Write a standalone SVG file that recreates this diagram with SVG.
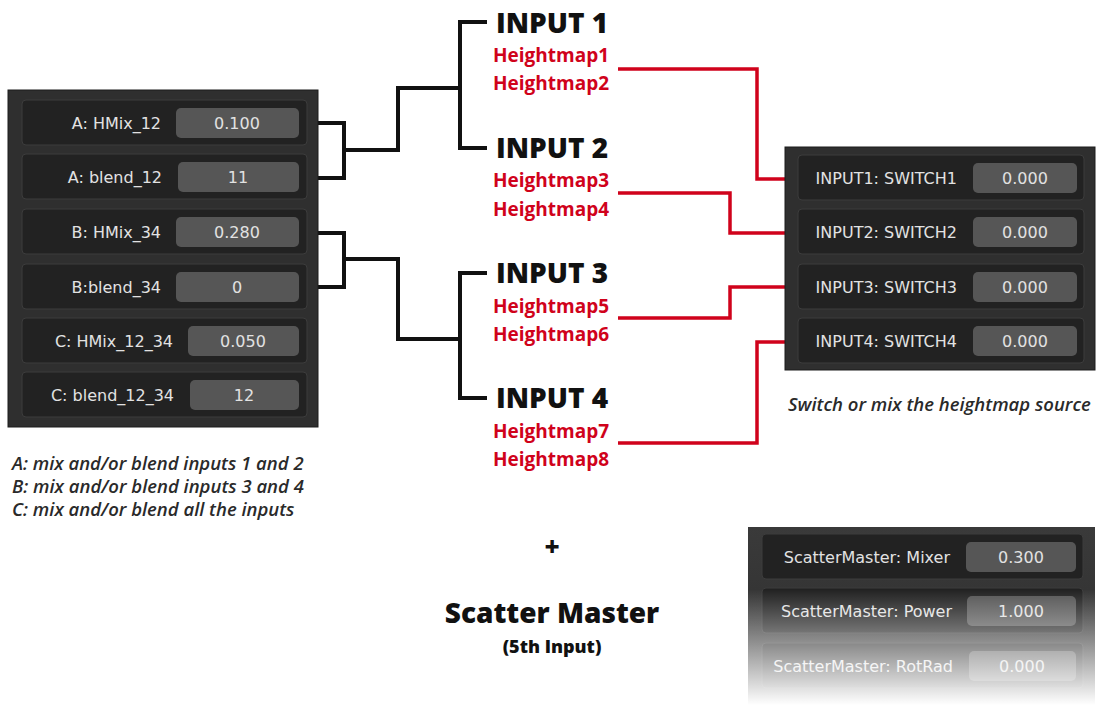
<svg xmlns="http://www.w3.org/2000/svg" width="1097" height="705" viewBox="0 0 1097 705">
<style>
.panel{fill:#2f2f2f;stroke:#1c1c1c;stroke-width:1}
.row{fill:#222;stroke:#3c3c3c;stroke-width:1}
.box{fill:#565656}
.lbl{font-family:"DejaVu Sans",sans-serif;font-size:16px;fill:#e2e2e2;text-anchor:end}
.val{font-family:"DejaVu Sans",sans-serif;font-size:16px;fill:#e2e2e2;text-anchor:middle}
.inp{font-family:"Open Sans",sans-serif;font-weight:800;font-size:28px;fill:#111}
.hm{font-family:"Open Sans",sans-serif;font-weight:700;font-size:19px;fill:#d0021b}
.cap{font-family:"Open Sans",sans-serif;font-style:italic;font-weight:600;font-size:18.5px;fill:#2a2a2a}
.blk{fill:none;stroke:#111;stroke-width:4;stroke-linejoin:miter;stroke-linecap:square}
.red{fill:none;stroke:#d0021b;stroke-width:3.5;stroke-linejoin:miter}
</style>
<defs>
<linearGradient id="fade" x1="0" y1="0" x2="0" y2="1">
<stop offset="0" stop-color="#fff" stop-opacity="0"/>
<stop offset="0.35" stop-color="#fff" stop-opacity="0"/>
<stop offset="1" stop-color="#fff" stop-opacity="1"/>
</linearGradient>
<linearGradient id="pg" x1="0" y1="0" x2="0" y2="1">
<stop offset="0" stop-color="#3a3a3a"/>
<stop offset="1" stop-color="#2c2c2c"/>
</linearGradient>
</defs>
<rect width="1097" height="705" fill="#fff"/>

<g id="connectors">
<path class="blk" d="M318 123 H344 V178 H318 M344 150 H398 V88 H460 V22 H485 M460 88 V148 H485"/>
<path class="blk" d="M318 233 H344 V287 H318 M344 259 H398 V339 H460 V273 H485 M460 339 V398 H485"/>
<path class="red" d="M618 69 H757 V179 H786"/>
<path class="red" d="M618 193 H730 V233 H786"/>
<path class="red" d="M618 318 H730 V287 H786"/>
<path class="red" d="M618 443 H757 V342 H786"/>
</g>

<g id="mix-panel">
<rect class="panel" x="8" y="90" width="310" height="337"/>
<rect class="row" x="22" y="100" width="285" height="45" rx="4"/>
<rect class="box" x="176" y="108" width="123" height="30" rx="5"/>
<text class="lbl" x="161" y="129">A: HMix_12</text>
<text class="val" x="237" y="129">0.100</text>
<rect class="row" x="22" y="154" width="285" height="45" rx="4"/>
<rect class="box" x="178" y="162" width="121" height="30" rx="5"/>
<text class="lbl" x="162" y="183">A: blend_12</text>
<text class="val" x="238" y="183">11</text>
<rect class="row" x="22" y="209" width="285" height="45" rx="4"/>
<rect class="box" x="176" y="217" width="123" height="30" rx="5"/>
<text class="lbl" x="161" y="238">B: HMix_34</text>
<text class="val" x="237" y="238">0.280</text>
<rect class="row" x="22" y="264" width="285" height="45" rx="4"/>
<rect class="box" x="176" y="272" width="123" height="30" rx="5"/>
<text class="lbl" x="161" y="293">B:blend_34</text>
<text class="val" x="237" y="293">0</text>
<rect class="row" x="22" y="318" width="285" height="45" rx="4"/>
<rect class="box" x="188" y="326" width="111" height="30" rx="5"/>
<text class="lbl" x="173" y="347">C: HMix_12_34</text>
<text class="val" x="243" y="347">0.050</text>
<rect class="row" x="22" y="372" width="285" height="45" rx="4"/>
<rect class="box" x="190" y="380" width="109" height="30" rx="5"/>
<text class="lbl" x="174" y="401">C: blend_12_34</text>
<text class="val" x="244" y="401">12</text>
</g>

<g id="mix-caption">
<text class="cap" x="12" y="470">A: mix and/or blend inputs 1 and 2</text>
<text class="cap" x="12" y="493">B: mix and/or blend inputs 3 and 4</text>
<text class="cap" x="12" y="516">C: mix and/or blend all the inputs</text>
</g>

<g id="input1">
<text class="inp" x="496" y="33">INPUT 1</text>
<text class="hm" x="493" y="62">Heightmap1</text>
<text class="hm" x="493" y="90">Heightmap2</text>
</g>
<g id="input2">
<text class="inp" x="496" y="158">INPUT 2</text>
<text class="hm" x="493" y="187">Heightmap3</text>
<text class="hm" x="493" y="216">Heightmap4</text>
</g>
<g id="input3">
<text class="inp" x="496" y="283">INPUT 3</text>
<text class="hm" x="493" y="313">Heightmap5</text>
<text class="hm" x="493" y="341">Heightmap6</text>
</g>
<g id="input4">
<text class="inp" x="496" y="408">INPUT 4</text>
<text class="hm" x="493" y="438">Heightmap7</text>
<text class="hm" x="493" y="466">Heightmap8</text>
</g>

<g id="switch-panel">
<rect class="panel" x="785" y="147" width="310" height="223"/>
<rect class="row" x="798" y="155" width="286" height="45" rx="4"/>
<rect class="box" x="973" y="163" width="104" height="30" rx="5"/>
<text class="lbl" x="957" y="184">INPUT1: SWITCH1</text>
<text class="val" x="1025" y="184">0.000</text>
<rect class="row" x="798" y="209" width="286" height="45" rx="4"/>
<rect class="box" x="973" y="217" width="104" height="30" rx="5"/>
<text class="lbl" x="957" y="238">INPUT2: SWITCH2</text>
<text class="val" x="1025" y="238">0.000</text>
<rect class="row" x="798" y="264" width="286" height="45" rx="4"/>
<rect class="box" x="973" y="272" width="104" height="30" rx="5"/>
<text class="lbl" x="957" y="293">INPUT3: SWITCH3</text>
<text class="val" x="1025" y="293">0.000</text>
<rect class="row" x="798" y="318" width="286" height="45" rx="4"/>
<rect class="box" x="973" y="326" width="104" height="30" rx="5"/>
<text class="lbl" x="957" y="347">INPUT4: SWITCH4</text>
<text class="val" x="1025" y="347">0.000</text>
</g>
<text class="cap" x="788" y="411">Switch or mix the heightmap source</text>

<g id="scatter">
<text x="552" y="556" font-family="Open Sans, sans-serif" font-weight="800" font-size="26" fill="#111" text-anchor="middle">+</text>
<text x="552" y="623" font-family="Open Sans, sans-serif" font-weight="800" font-size="28" fill="#111" text-anchor="middle">Scatter Master</text>
<text x="552" y="653" font-family="Open Sans, sans-serif" font-weight="800" font-size="18" fill="#111" text-anchor="middle">(5th Input)</text>
</g>

<g id="scatter-panel">
<rect x="748" y="527" width="347" height="178" fill="url(#pg)"/>
<rect class="row" x="762" y="534" width="321" height="45" rx="4"/>
<rect class="box" x="966" y="542" width="110" height="30" rx="5"/>
<text class="lbl" x="950" y="563">ScatterMaster: Mixer</text>
<text class="val" x="1021" y="563">0.300</text>
<rect class="row" x="762" y="588" width="321" height="45" rx="4"/>
<rect class="box" x="967" y="596" width="109" height="30" rx="5"/>
<text class="lbl" x="952" y="617">ScatterMaster: Power</text>
<text class="val" x="1021" y="617">1.000</text>
<rect class="row" x="762" y="643" width="321" height="45" rx="4"/>
<rect class="box" x="969" y="651" width="107" height="30" rx="5"/>
<text class="lbl" x="953" y="672">ScatterMaster: RotRad</text>
<text class="val" x="1022" y="672">0.000</text>
<rect x="747" y="527" width="349" height="178" fill="url(#fade)"/>
</g>
</svg>
